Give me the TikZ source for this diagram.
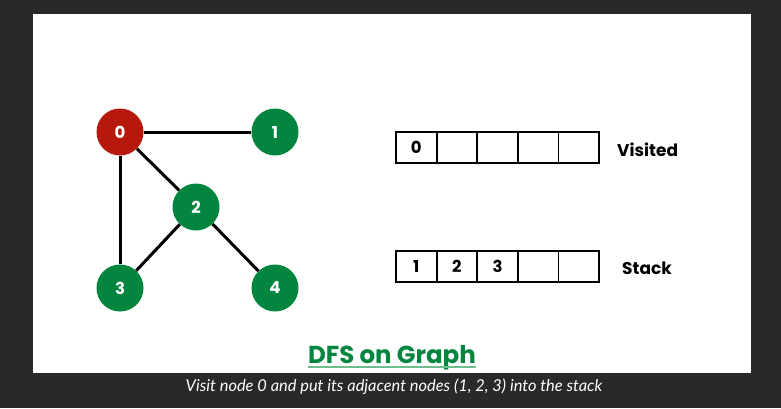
\documentclass[tikz,border=0pt]{standalone}
\usepackage{fontspec}
\setmainfont{Poppins}
\newfontfamily\capfont{Lato}
\definecolor{bgdark}{RGB}{41,41,43}
\definecolor{gfgred}{RGB}{183,24,12}
\definecolor{gfggreen}{RGB}{2,133,62}
\definecolor{ulgreen}{RGB}{110,190,140}
\tikzset{
  vert/.style={circle,minimum size=47pt,inner sep=0pt,text=white,font=\fontsize{16.5}{16.5}\selectfont\bfseries},
  gedge/.style={line width=3pt,black},
  cell/.style={draw=black,line width=1.8pt,minimum width=40.6pt,minimum height=31pt,inner sep=0pt,font=\fontsize{16.5}{16.5}\selectfont\bfseries},
  lbl/.style={font=\fontsize{17}{17}\selectfont\bfseries,inner sep=0pt}
}
\begin{document}
\begin{tikzpicture}[x=1pt,y=-1pt]
\fill[bgdark] (0,0) rectangle (781,408);
\useasboundingbox (0,0) rectangle (781,408);
\fill[white] (33,14) rectangle (751,373);
% graph
\node[vert,fill=gfgred] (n0) at (120,132) {0};
\node[vert,fill=gfggreen] (n1) at (275,132) {1};
\node[vert,fill=gfggreen] (n2) at (196,207) {2};
\node[vert,fill=gfggreen] (n3) at (120,288) {3};
\node[vert,fill=gfggreen] (n4) at (275,288) {4};
\draw[gedge] (n0) -- (n1);
\draw[gedge] (n0) -- (n2);
\draw[gedge] (n0) -- (n3);
\draw[gedge] (n2) -- (n3);
\draw[gedge] (n2) -- (n4);
% visited
\node[cell] (v0) at (416.3,147.8) {0};
\node[cell] (v1) at (456.9,147.8) {};
\node[cell] (v2) at (497.5,147.8) {};
\node[cell] (v3) at (538.1,147.8) {};
\node[cell] (v4) at (578.7,147.8) {};
\node[lbl,anchor=west] (vl) at (617,150) {Visited};
% stack
\node[cell] (s0) at (416.3,266.2) {1};
\node[cell] (s1) at (456.9,266.2) {2};
\node[cell] (s2) at (497.5,266.2) {3};
\node[cell] (s3) at (538.1,266.2) {};
\node[cell] (s4) at (578.7,266.2) {};
\node[lbl,anchor=west] (sl) at (622,268) {Stack};
% title
\node[font=\fontsize{24.5}{24.5}\selectfont\bfseries,text=gfggreen,inner sep=0pt,anchor=base] (title) at (392,363) {DFS on Graph};
\draw[ulgreen,line width=2pt] (title.base west) ++(0,4) coordinate (ul1) -- (title.base east |- ul1);
% caption
\node[font=\capfont\itshape\fontsize{16.4}{16.4}\selectfont,text=white,inner sep=0pt] (cap) at (394,387) {Visit node 0 and put its adjacent nodes (1, 2, 3) into the stack};
\end{tikzpicture}
\end{document}
